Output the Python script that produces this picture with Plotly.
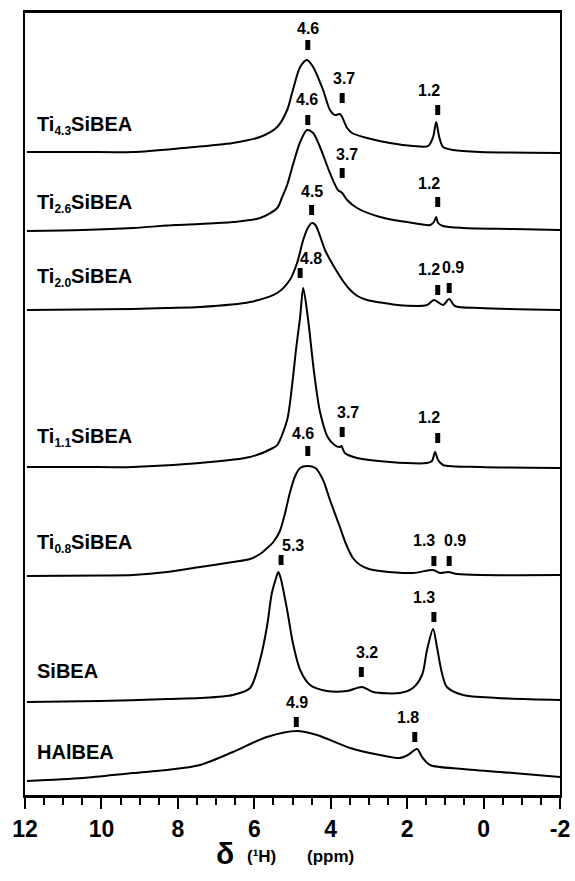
import plotly.graph_objects as go

# sample names, top to bottom
samples = ["Ti<sub>4.3</sub>SiBEA", "Ti<sub>2.6</sub>SiBEA", "Ti<sub>2.0</sub>SiBEA",
           "Ti<sub>1.1</sub>SiBEA", "Ti<sub>0.8</sub>SiBEA", "SiBEA", "HAlBEA"]

# vertical offset of each spectrum (stacked plot)
offsets = [643, 565, 485, 328, 219, 95, 14]

# spectra: chemical shift (ppm) and intensity above own baseline
ppm_ti43 = [11.95, 10.5, 9.17, 7.87, 6.56, 5.85, 5.40, 5.14, 4.99, 4.80, 4.62, 4.46, 4.20,
            4.02, 3.89, 3.76, 3.70, 3.57, 3.44, 3.05, 2.45, 1.85, 1.45, 1.32, 1.24, 1.16,
            1.06, 0.80, 0.09, -2.0]
int_ti43 = [0, 0, 0, 4, 9, 15, 25, 42, 62, 85, 92, 85, 62,
            42, 37, 38, 35, 24, 19, 14, 9, 6, 6, 15, 30, 15,
            5, 2, 0, -1]

ppm_ti26 = [11.95, 10.5, 9.17, 8.07, 7.42, 6.56, 5.85, 5.40, 5.27, 5.14, 4.99, 4.80, 4.62,
            4.46, 4.28, 4.02, 3.81, 3.70, 3.57, 3.31, 2.71, 1.85, 1.40, 1.30, 1.24, 1.19,
            1.06, 0.54, -0.77, -2.0]
int_ti26 = [-1, 0, 2, 5, 6, 8, 12, 22, 33, 45, 65, 88, 100,
            97, 83, 57, 40, 37, 30, 22, 13, 7, 5, 8, 13, 7,
            4, 2, 1, 0]

ppm_ti20 = [11.95, 10.5, 9.17, 8.3, 7.42, 6.11, 5.40, 5.07, 4.88, 4.72, 4.60, 4.49, 4.40,
            4.28, 4.15, 4.00, 3.83, 3.66, 3.49, 3.30, 3.05, 2.60, 2.26, 1.48, 1.30, 1.06,
            0.90, 0.75, 0.09, -2.0]
int_ti20 = [0, 0.5, 1, 2, 3, 8, 17, 30, 47, 70, 82, 87, 85,
            74, 60, 49, 38, 28, 20, 14, 10, 7, 5, 5, 10, 5,
            11, 4, 2, 0]

ppm_ti11 = [11.95, 10.5, 9.17, 7.42, 6.11, 5.51, 5.40, 5.14, 5.01, 4.90, 4.80, 4.72, 4.60,
            4.43, 4.28, 4.08, 3.90, 3.76, 3.72, 3.63, 3.31, 2.45, 1.48, 1.35, 1.27, 1.19,
            1.06, 0.09, -2.0]
int_ti11 = [0, 0, 0, 4, 10, 19, 22, 47, 82, 120, 150, 179, 150,
            93, 55, 30, 22, 20, 21, 14, 9, 5, 4, 6, 15, 7,
            2, 0, -1]

ppm_ti08 = [11.95, 10.0, 9.17, 8.28, 7.42, 6.56, 6.11, 5.85, 5.72, 5.50, 5.33, 5.20, 5.07,
            4.93, 4.80, 4.62, 4.40, 4.20, 4.02, 3.76, 3.60, 3.42, 3.23, 3.00, 2.71, 1.85,
            1.32, 1.14, 0.93, 0.69, 0.09, -2.0]
int_ti08 = [0, 0.5, 1, 4, 9, 14, 17, 22, 26, 34, 45, 62, 83,
            100, 108, 110, 108, 96, 76, 49, 32, 18, 11, 7, 5, 3,
            6, 3, 4, 2, 1, 1]

ppm_sibea = [11.95, 10.04, 8.28, 7.42, 6.56, 6.11, 5.85, 5.67, 5.54, 5.43, 5.37, 5.31, 5.14,
             4.99, 4.80, 4.54, 4.10, 3.57, 3.18, 2.89, 2.19, 1.85, 1.61, 1.48, 1.32, 1.22,
             1.09, 0.96, 0.54, -0.35, -2.0]
int_sibea = [-2, -1, 1, 2, 5, 12, 40, 73, 107, 122, 128, 122, 90,
             57, 30, 15, 9, 9, 13, 8, 7, 12, 25, 50, 71, 53,
             27, 13, 5, 2, 0]

ppm_halbea = [11.95, 10.48, 9.17, 8.28, 7.42, 6.56, 5.67, 4.88, 4.36, 3.49, 2.71, 2.19, 1.98,
              1.74, 1.61, 1.40, 0.54, -0.77, -2.0]
int_halbea = [0, 3, 8, 11, 16, 29, 44, 50, 46, 33, 26, 23, 26,
              32, 24, 16, 12, 8, 4]

spectra_ppm = [ppm_ti43, ppm_ti26, ppm_ti20, ppm_ti11, ppm_ti08, ppm_sibea, ppm_halbea]
spectra_int = [int_ti43, int_ti26, int_ti20, int_ti11, int_ti08, int_sibea, int_halbea]

# assigned peaks for each sample
peaks = [[4.6, 3.7, 1.2], [4.6, 3.7, 1.2], [4.5, 1.2, 0.9], [4.8, 3.7, 1.2],
         [4.6, 1.3, 0.9], [5.3, 3.2, 1.3], [4.9, 1.8]]

xticks = [12, 10, 8, 6, 4, 2, 0, -2]

# axis title pieces
title_parts = ["δ", "(¹H)", "(ppm)"]

# ---- layout helpers (pixel placement of marks and labels) ----
H_AXIS = 795          # pixel row of x axis
PLOT_H = 782
PLOT_W = 535
def ypx(p):
    return H_AXIS - p

marker_top = [[40, 93, 105], [115, 168, 197], [205, 285, 283], [268, 427, 433],
              [446, 556, 556], [555, 667, 612], [717, 732]]
label_dx = [[0, 2, -9], [-1, 5, -9], [0, -9, 4], [11, 6, -9],
            [-5, -10, 6], [12, 6, -10], [1, -7]]
label_gap = [[12, 15, 15], [16, 14, 14], [14, 16, 16], [10, 15, 16],
             [13, 16, 16], [10, 15, 15], [15, 15]]
name_y = [125, 203, 277, 437, 543, 671, 752]
title_x = [214, 245, 305]          # left edge, px
title_y = [853, 856, 857]          # centre, px
title_size = [30, 17, 17]

fig = go.Figure()

for xs, ys, off in zip(spectra_ppm, spectra_int, offsets):
    fig.add_trace(go.Scatter(x=xs, y=[off + v for v in ys], mode="lines",
                             line=dict(color="black", width=2, shape="spline", smoothing=0.8),
                             hoverinfo="skip", showlegend=False))

shapes = []
annotations = []
for i, plist in enumerate(peaks):
    for j, p in enumerate(plist):
        top = marker_top[i][j]
        shapes.append(dict(type="rect", xref="x", yref="y", x0=p + 0.065, x1=p - 0.065,
                           y0=ypx(top + 10), y1=ypx(top), fillcolor="black", line_width=0))
        annotations.append(dict(x=p, y=ypx(top - label_gap[i][j]), xref="x", yref="y",
                                text=f"<b>{p:.1f}</b>", showarrow=False,
                                xanchor="center", yanchor="middle", xshift=label_dx[i][j],
                                font=dict(size=16, color="black")))

for name, y in zip(samples, name_y):
    name = name.replace("<sub>", "<sub><span style='font-size:12px'>").replace("</sub>", "</span></sub>")
    annotations.append(dict(x=10 / PLOT_W, y=ypx(y), xref="paper", yref="y",
                            text=f"<b>{name}</b>", showarrow=False,
                            xanchor="left", yanchor="middle",
                            font=dict(size=20, color="black")))

for txt, tx, ty, ts in zip(title_parts, title_x, title_y, title_size):
    annotations.append(dict(x=(tx - 25) / PLOT_W, y=(H_AXIS - ty) / PLOT_H,
                            xref="paper", yref="paper", showarrow=False,
                            xanchor="left", yanchor="middle", text=f"<b>{txt}</b>",
                            font=dict(size=ts, color="black")))

fig.update_layout(
    width=575, height=881,
    margin=dict(l=25, r=15, t=13, b=86, autoexpand=False),
    paper_bgcolor="white", plot_bgcolor="white",
    font=dict(family="Liberation Sans, Arial, sans-serif", color="black"),
    shapes=shapes, annotations=annotations,
    showlegend=False,
)

fig.update_xaxes(
    range=[12, -2], tickvals=xticks, ticktext=[str(t) for t in xticks],
    ticks="outside", ticklen=11, tickwidth=2, tickcolor="black",
    minor=dict(dtick=0.5, ticks="outside", ticklen=7, tickwidth=2, tickcolor="black"),
    showline=True, linewidth=3, linecolor="black", mirror=True,
    showgrid=False, zeroline=False,
    tickfont=dict(family="Liberation Sans Narrow, Liberation Sans, Arial", size=23,
                  weight="bold", color="black"),
)
fig.update_yaxes(
    range=[0, 782], showticklabels=False, ticks="",
    showline=True, linewidth=2, linecolor="black", mirror=True,
    showgrid=False, zeroline=False,
)

# page body has a default margin; drop it so the figure sits at the window corner
fig.write_html("out.html", config={"displayModeBar": False},
               post_script="document.body.style.margin='0';")
